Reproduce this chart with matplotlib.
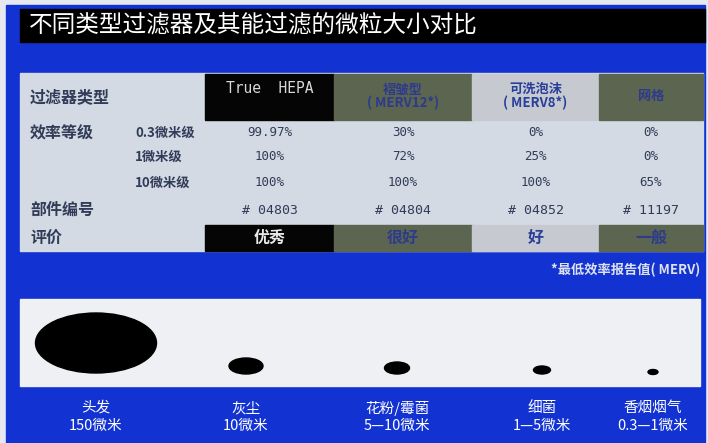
import matplotlib
matplotlib.use("Agg")
import matplotlib.pyplot as plt
from matplotlib.patches import Rectangle, Ellipse

plt.rcParams['font.family'] = ['Noto Sans CJK SC', 'DejaVu Sans']

# table data
title = "不同类型过滤器及其能过滤的微粒大小对比"
filter_types = ["True  HEPA", "褶皱型\n( MERV12*)", "可洗泡沫\n( MERV8*)", "网格"]
row_labels = ["过滤器类型", "效率等级", "", "", "部件编号", "评价"]
grade_labels = ["0.3微米级", "1微米级", "10微米级"]
eff_03 = ["99.97%", "30%", "0%", "0%"]
eff_1 = ["100%", "72%", "25%", "0%"]
eff_10 = ["100%", "100%", "100%", "65%"]
part_no = ["# 04803", "# 04804", "# 04852", "# 11197"]
rating = ["优秀", "很好", "好", "一般"]
footnote = "*最低效率报告值( MERV)"

# particle data (name, size text, drawn diameter)
particles = ["头发", "灰尘", "花粉/霉菌", "细菌", "香烟烟气"]
particle_sizes = ["150微米", "10微米", "5—10微米", "1—5微米", "0.3—1微米"]
drawn_w = [121, 34, 25, 17, 10]
drawn_h = [60, 16, 12, 8, 5]

BLUE = "#1232d2"
TABLE_BG = "#d4dae3"
OLIVE = "#5c6550"
LIGHT_CELL = "#c6cad0"
TEXT = "#303c58"
OLIVE_TEXT = "#2c3b8c"

col_bg = ["#050505", OLIVE, LIGHT_CELL, OLIVE]
col_fg = ["#d8d8d8", OLIVE_TEXT, "#2a3f9a", OLIVE_TEXT]
col_edges = [205, 334, 472, 599, 703]
col_x = [(col_edges[i] + col_edges[i + 1]) / 2 for i in range(4)]

fig = plt.figure(figsize=(7.08, 4.43), dpi=100)
ax = fig.add_axes([0, 0, 1, 1])
ax.set_xlim(0, 708)
ax.set_ylim(443, 0)
ax.axis("off")

# frame
ax.add_patch(Rectangle((0, 0), 708, 443, color="#e6eaf0"))
ax.add_patch(Rectangle((6, 5), 699, 443, color=BLUE))

# title bar
ax.add_patch(Rectangle((20, 9), 685, 33, color="black"))
ax.text(29, 26, title, color="white", fontsize=17, va="center", ha="left")

# table body
ax.add_patch(Rectangle((20, 73), 683, 178, color=TABLE_BG))

# header row
for i in range(4):
    ax.add_patch(Rectangle((col_edges[i], 74), col_edges[i + 1] - col_edges[i], 46,
                           color=col_bg[i]))
    if i == 0:
        ax.text(col_x[i], 88, filter_types[i], color=col_fg[i], fontsize=10.5,
                family="DejaVu Sans Mono", ha="center", va="center")
    else:
        ax.text(col_x[i], 96, filter_types[i], color=col_fg[i], fontsize=9.5,
                ha="center", va="center", linespacing=0.95, weight="bold")

row_y = [97, 133, 157, 183, 210, 238]
for lab, y in zip(row_labels, row_y):
    if lab:
        ax.text(30, y, lab, color=TEXT, fontsize=11.5, weight="bold",
                ha="left", va="center")

for lab, y in zip(grade_labels, row_y[1:4]):
    ax.text(135, y, lab, color=TEXT, fontsize=9.5, weight="bold",
            ha="left", va="center")

for vals, y in zip([eff_03, eff_1, eff_10, part_no], row_y[1:5]):
    for i, v in enumerate(vals):
        ax.text(col_x[i], y, v, color=TEXT, fontsize=9.5 if v[0] == "#" else 9,
                family="DejaVu Sans Mono", ha="center", va="center")

# rating row
for i, r in enumerate(rating):
    ax.add_patch(Rectangle((col_edges[i], 225), col_edges[i + 1] - col_edges[i], 26,
                           color=col_bg[i]))
    ax.text(col_x[i], 238, r, color="#e8e8e8" if i == 0 else col_fg[i],
            fontsize=11.5, weight="bold", ha="center", va="center")

ax.text(700, 270, footnote, color="#dde2ee", fontsize=9.5, weight="bold",
        ha="right", va="center")

# particle panel
ax.add_patch(Rectangle((20, 299), 680, 87, color="#eef0f3"))
part_x = [96, 246, 397, 542, 653]
part_y = [343, 366, 368, 370, 372]
for x, y, w, h in zip(part_x, part_y, drawn_w, drawn_h):
    ax.add_patch(Ellipse((x, y), w, h, color="black"))

for x, name, size in zip(part_x, particles, particle_sizes):
    ax.text(x, 408, name, color="white", fontsize=10.5, ha="center", va="center")
    ax.text(x, 426, size, color="white", fontsize=10.5, ha="center", va="center")

fig.savefig("out.png", dpi=100)
